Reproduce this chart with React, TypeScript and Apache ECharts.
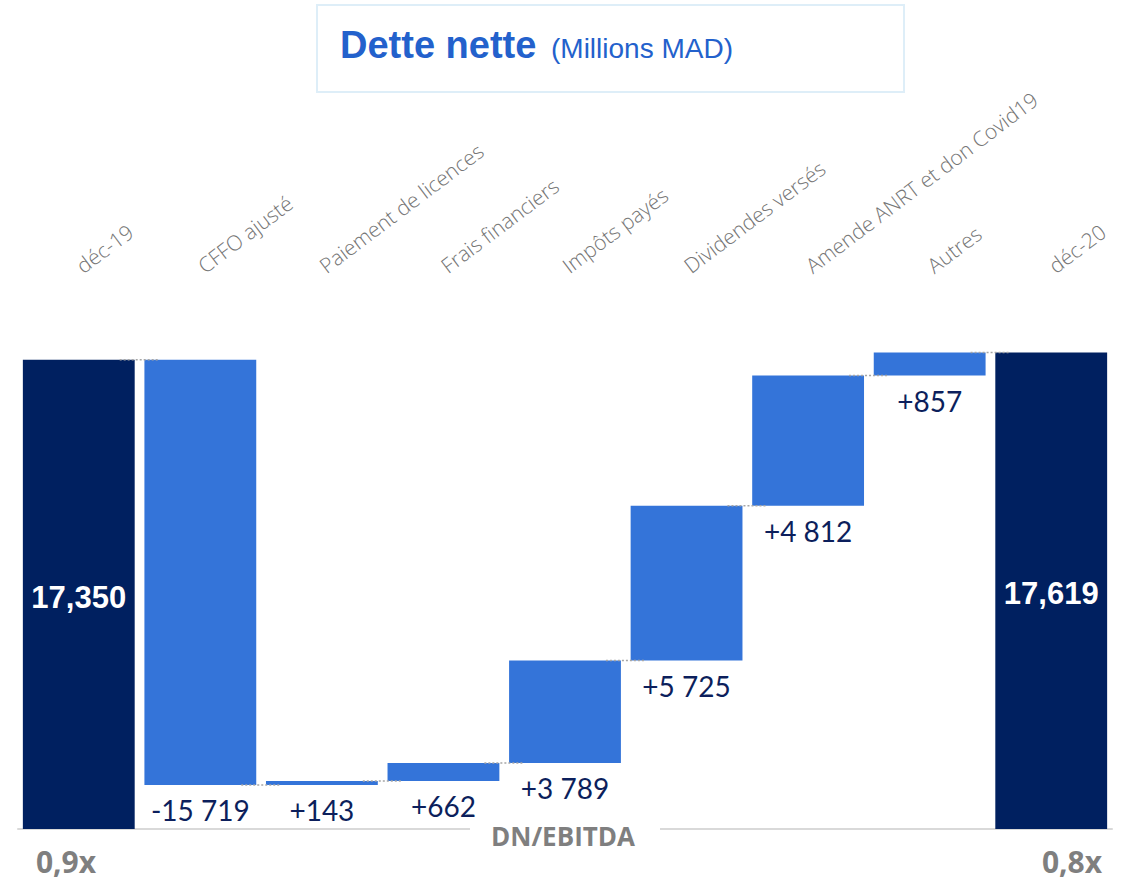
import React, { useEffect, useRef } from "react";
import * as echarts from "echarts";

const categories = [
  "déc-19",
  "CFFO ajusté",
  "Paiement de licences",
  "Frais financiers",
  "Impôts payés",
  "Dividendes versés",
  "Amende ANRT et don Covid19",
  "Autres",
  "déc-20",
];
const startValue = 17350;
const endValue = 17619;
const deltas = [-15719, 143, 662, 3789, 5725, 4812, 857];
const ratioStart = "0,9x";
const ratioEnd = "0,8x";
const ratioTitle = "DN/EBITDA";

const NAVY = "#002060";
const BLUE = "#3474D9";
const LABEL_NAVY = "#0c1f5c";

function fmtDelta(v: number): string {
  const s = Math.abs(v).toString().replace(/\B(?=(\d{3})+(?!\d))/g, " ");
  return (v < 0 ? "-" : "+") + s;
}
function fmtTotal(v: number): string {
  return v.toString().replace(/\B(?=(\d{3})+(?!\d))/g, ",");
}

export default function App() {
  const ref = useRef<HTMLDivElement>(null);
  useEffect(() => {
    if (!ref.current) return;
    const chart = echarts.init(ref.current, null, { renderer: "svg" });

    const totalLabel = (v: number) => ({
      show: true,
      position: "inside",
      offset: [0, 3],
      formatter: fmtTotal(v),
      color: "#fff",
      fontWeight: "bold",
      fontSize: 31,
      fontFamily: "Liberation Sans, Arial, sans-serif",
    });

    const baseData: any[] = [];
    const valData: any[] = [];
    const levels: number[] = [];
    baseData.push(0);
    valData.push({ value: startValue, itemStyle: { color: NAVY }, label: totalLabel(startValue) });
    let cur = startValue;
    levels.push(cur);
    deltas.forEach((d) => {
      const next = cur + d;
      baseData.push(Math.min(cur, next));
      valData.push({
        value: Math.abs(d),
        itemStyle: { color: BLUE },
        label: {
          show: true,
          position: "bottom",
          distance: 11,
          formatter: fmtDelta(d),
          color: LABEL_NAVY,
          fontSize: 28,
          fontFamily: "Lato, sans-serif",
        },
      });
      cur = next;
      levels.push(cur);
    });
    baseData.push(0);
    valData.push({ value: endValue, itemStyle: { color: NAVY }, label: totalLabel(endValue) });

    const connectorData = levels.map((lv, i) => [i, lv]);

    chart.setOption({
      animation: false,
      grid: { left: 18, right: 15, top: 288, bottom: 52 },
      xAxis: [
        {
          type: "category",
          data: categories,
          position: "bottom",
          axisLine: { show: true, lineStyle: { color: "#d9d9d9", width: 2 } },
          axisTick: { show: false },
          axisLabel: { show: false },
        },
        {
          type: "category",
          data: categories,
          position: "top",
          axisLine: { show: false },
          axisTick: { show: false },
          axisLabel: {
            show: true,
            interval: 0,
            rotate: -37,
            margin: 20,
            color: "#767676",
            fontSize: 21,
            fontWeight: 300,
            fontFamily: "Open Sans, sans-serif",
          },
        },
      ],
      yAxis: { type: "value", min: 0, max: 20000, show: false },
      series: [
        {
          type: "bar",
          stack: "w",
          data: baseData,
          barWidth: "92%",
          itemStyle: { color: "transparent" },
          silent: true,
        },
        {
          type: "bar",
          stack: "w",
          data: valData,
          barWidth: "92%",
        },
        {
          type: "custom",
          data: connectorData,
          z: 5,
          renderItem: (params: any, api: any) => {
            const i = api.value(0);
            const lv = api.value(1);
            const p1 = api.coord([i, lv]);
            const p2 = api.coord([i + 1, lv]);
            const bw = api.size([1, 0])[0] * 0.92;
            const x1 = p1[0] + bw / 2 - 15;
            const x2 = p2[0] - bw / 2 + 15;
            return {
              type: "line",
              shape: { x1, y1: p1[1], x2, y2: p1[1] },
              style: { stroke: "#a6a6a6", lineWidth: 1.5, lineDash: [2, 2] },
            };
          },
        },
      ],
      graphic: [
        {
          type: "rect",
          shape: { x: 317, y: 5, width: 587, height: 87 },
          style: { fill: "#fff", stroke: "#deeef8", lineWidth: 2 },
        },
        {
          type: "text",
          x: 340,
          y: 45,
          style: {
            text: "Dette nette",
            fill: "#2361cc",
            font: "bold 38px 'Liberation Sans', Arial, sans-serif",
            verticalAlign: "middle",
            align: "left",
          },
        },
        {
          type: "text",
          x: 551,
          y: 48,
          style: {
            text: "(Millions MAD)",
            fill: "#2361cc",
            font: "28px 'Liberation Sans', Arial, sans-serif",
            verticalAlign: "middle",
            align: "left",
          },
        },
        {
          type: "rect",
          z: 10,
          shape: { x: 470, y: 820, width: 190, height: 16 },
          style: { fill: "#fff" },
        },
        {
          type: "text",
          z: 11,
          x: 563,
          y: 836,
          style: {
            text: ratioTitle,
            fill: "#7f7f7f",
            font: "bold 26px 'Open Sans', sans-serif",
            verticalAlign: "middle",
            align: "center",
          },
        },
        {
          type: "text",
          x: 66,
          y: 861,
          style: {
            text: ratioStart,
            fill: "#7f7f7f",
            font: "bold 30px 'Open Sans', sans-serif",
            verticalAlign: "middle",
            align: "center",
          },
        },
        {
          type: "text",
          x: 1072,
          y: 861,
          style: {
            text: ratioEnd,
            fill: "#7f7f7f",
            font: "bold 30px 'Open Sans', sans-serif",
            verticalAlign: "middle",
            align: "center",
          },
        },
      ],
    });
    return () => chart.dispose();
  }, []);
  return (
    <div
      ref={ref}
      style={{ position: "fixed", left: 0, top: 0, width: 1127, height: 881, background: "#fff" }}
    />
  );
}
